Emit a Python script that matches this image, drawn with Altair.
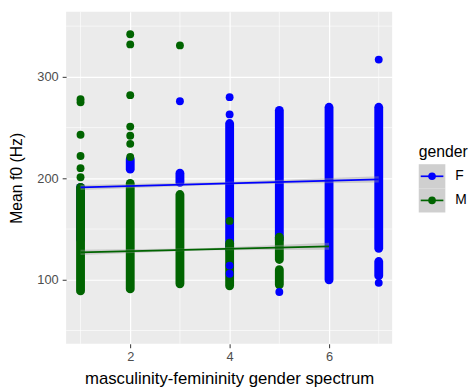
import altair as alt
import pandas as pd

BLUE = "#0000FF"
GREEN = "#006400"
FONT = "Liberation Sans"

# dense vertical runs of overlapping points (Hz, centre values)
f_run_x = [1, 2, 3, 4, 5, 6, 7, 7]
f_run_lo = [140, 209, 196, 130, 140, 100, 131, 104]
f_run_hi = [191, 219, 205, 254, 267, 270, 270, 118]
m_run_x = [1, 2, 3, 4, 5, 5]
m_run_lo = [89, 91, 96, 94, 120, 95]
m_run_hi = [191, 195, 184, 136, 142, 110]

# isolated points
f_pt_x = [3, 4, 4, 4, 4, 5, 7, 7]
f_pt_y = [276, 263, 280, 114, 106, 88, 317, 97]
m_pt_x = [1, 1, 1, 1, 1, 1, 2, 2, 2, 2, 2, 2, 2, 3, 4]
m_pt_y = [201, 210, 222, 243, 275, 278, 221, 234, 242, 251, 282, 332, 342, 331, 158]

# linear fits and confidence bands
fit_f_x = [1, 7]
fit_f_y = [191, 199]
fit_m_x = [1, 6]
fit_m_y = [127, 133]
band_f_x = [1, 4, 7]
band_f_lo = [188.5, 194, 196]
band_f_hi = [193.5, 196.5, 202]
band_m_x = [1, 3.5, 6]
band_m_lo = [124.5, 129, 129.5]
band_m_hi = [129.5, 131, 136.5]

major_x = [2, 4, 6]
major_y = [100, 200, 300]
minor_x = [1, 3, 5, 7]
minor_y = [50, 150, 250, 350]

genders = ["F", "M"]
colors = [BLUE, GREEN]

runs = pd.DataFrame({
    "gender": ["F"] * len(f_run_x) + ["M"] * len(m_run_x),
    "x": f_run_x + m_run_x,
    "lo": f_run_lo + m_run_lo,
    "hi": f_run_hi + m_run_hi,
})
pts = pd.DataFrame({
    "gender": ["F"] * len(f_pt_x) + ["M"] * len(m_pt_x),
    "x": f_pt_x + m_pt_x,
    "y": f_pt_y + m_pt_y,
})
fits = pd.DataFrame({
    "gender": ["F"] * len(fit_f_x) + ["M"] * len(fit_m_x),
    "x": fit_f_x + fit_m_x,
    "y": fit_f_y + fit_m_y,
})
bands = pd.DataFrame({
    "gender": ["F"] * len(band_f_x) + ["M"] * len(band_m_x),
    "x": band_f_x + band_m_x,
    "lo": band_f_lo + band_m_lo,
    "hi": band_f_hi + band_m_hi,
})
gx = pd.DataFrame({"x": minor_x})
gy = pd.DataFrame({"y": minor_y})

xscale = alt.Scale(domain=[0.71, 7.27], nice=False, zero=False)
yscale = alt.Scale(domain=[36.9, 364.1], nice=False, zero=False)
xaxis = alt.Axis(values=major_x, title="masculinity-femininity gender spectrum",
                 grid=True, gridColor="white", gridWidth=1.2, domain=False,
                 tickColor="#333333", tickSize=4, labelFontSize=13, labelColor="#4D4D4D",
                 labelPadding=3, titleFontSize=17, titleFontWeight="normal",
                 titleColor="black", titlePadding=7, labelFont=FONT, titleFont=FONT)
yaxis = alt.Axis(values=major_y, title="Mean f0 (Hz)",
                 grid=True, gridColor="white", gridWidth=1.2, domain=False,
                 tickColor="#333333", tickSize=4, labelFontSize=13, labelColor="#4D4D4D",
                 labelPadding=4, titleFontSize=16, titleFontWeight="normal",
                 titleColor="black", titlePadding=13, labelFont=FONT, titleFont=FONT)
col = alt.Color("gender:N", scale=alt.Scale(domain=genders, range=colors), legend=None)

X = alt.X("x:Q", scale=xscale, axis=xaxis)

minor_v = alt.Chart(gx).mark_rule(color="white", strokeWidth=0.6).encode(x=X)
minor_h = alt.Chart(gy).mark_rule(color="white", strokeWidth=0.6).encode(
    y=alt.Y("y:Q", scale=yscale, axis=yaxis))

def run_layer(g):
    return alt.Chart(runs[runs.gender == g]).mark_rule(strokeWidth=9, strokeCap="round").encode(
        x=X, y=alt.Y("lo:Q", scale=yscale, axis=yaxis), y2="hi:Q", color=col)

def pt_layer(g):
    return alt.Chart(pts[pts.gender == g]).mark_circle(size=64, opacity=1).encode(
        x=X, y=alt.Y("y:Q", scale=yscale, axis=yaxis), color=col)

band = alt.Chart(bands).mark_area(color="#999999", opacity=0.4).encode(
    x=X, y=alt.Y("lo:Q", scale=yscale, axis=yaxis), y2="hi:Q", detail="gender:N")
fit = alt.Chart(fits).mark_line(strokeWidth=1.7).encode(
    x=X, y=alt.Y("y:Q", scale=yscale, axis=yaxis), color=col)

main = alt.layer(
    minor_v, minor_h,
    run_layer("F"), run_layer("M"), pt_layer("F"), pt_layer("M"),
    band, fit,
).properties(width=331, height=337, view=alt.ViewBackground(fill="#EBEBEB", stroke=None))

# legend
leg = pd.DataFrame({"gender": genders})
ly = alt.Y("gender:N", scale=alt.Scale(domain=genders, range=[154.7, 203.7],
                                        paddingInner=0, paddingOuter=0), axis=None)
lcol = alt.Color("gender:N", scale=alt.Scale(domain=genders, range=colors), legend=None)
key_bg = alt.Chart(leg).mark_rect(color="#CFCFCF").encode(
    y=ly, x=alt.value(0), x2=alt.value(27))
key_line = alt.Chart(leg).mark_rule(strokeWidth=1.7).encode(
    y=ly, x=alt.value(2), x2=alt.value(25), color=lcol)
key_dot = alt.Chart(leg).mark_circle(size=60, opacity=1).encode(
    y=ly, x=alt.value(13.5), color=lcol)
key_lab = alt.Chart(leg).mark_text(align="left", baseline="middle", fontSize=14,
                                   font=FONT, color="black").encode(
    y=ly, x=alt.value(37), text="gender:N")
leg_title = alt.Chart(pd.DataFrame({"t": ["gender"]})).mark_text(
    align="left", baseline="middle", fontSize=16, font=FONT, color="black").encode(
    x=alt.value(0), y=alt.value(142), text="t:N")
legend = alt.layer(key_bg, key_line, key_dot, key_lab, leg_title).properties(
    width=50, height=337, view=alt.ViewBackground(fill=None, stroke=None))

chart = alt.hconcat(main, legend, spacing=26).resolve_scale(
    y="independent", color="independent").properties(padding=0).configure(font=FONT)

chart.save("out.html", embed_options={"renderer": "svg", "actions": False})
